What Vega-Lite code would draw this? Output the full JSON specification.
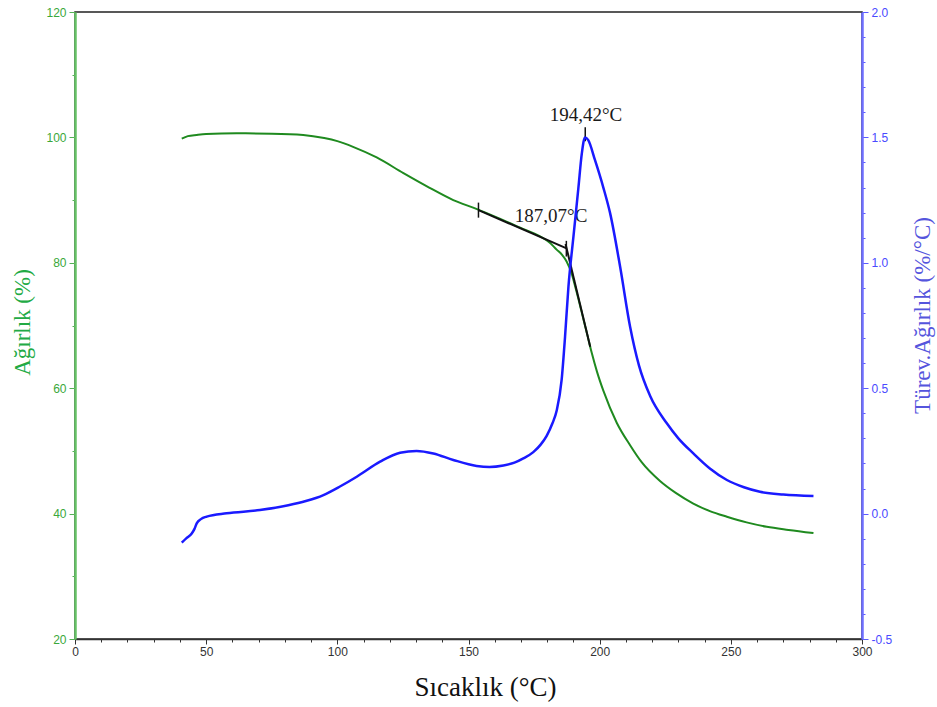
{
  "$schema": "https://vega.github.io/schema/vega-lite/v6.json",
  "width": 787,
  "height": 627,
  "autosize": "none",
  "padding": {"left": 75, "top": 12, "right": 75, "bottom": 68},
  "background": "white",
  "config": {"view": {"stroke": "#222222", "strokeWidth": 1.5}, "axis": {"labelOverlap": false, "labelFlush": false}},
  "datasets": {
    "weight": [
      {"T": 40.7, "W": 99.8}, {"T": 43, "W": 100.2}, {"T": 46.4, "W": 100.4}, {"T": 50, "W": 100.55},
      {"T": 61.6, "W": 100.65}, {"T": 75, "W": 100.6}, {"T": 87, "W": 100.4}, {"T": 95, "W": 99.9},
      {"T": 100, "W": 99.4}, {"T": 106, "W": 98.5}, {"T": 115, "W": 96.8}, {"T": 125.2, "W": 94.3},
      {"T": 135, "W": 92.0}, {"T": 144.2, "W": 90.0}, {"T": 153, "W": 88.6}, {"T": 161, "W": 87.2},
      {"T": 169.7, "W": 85.6}, {"T": 177.3, "W": 84.2}, {"T": 181, "W": 83.2}, {"T": 183.6, "W": 82.1},
      {"T": 185.6, "W": 81.3}, {"T": 187.4, "W": 80.2}, {"T": 189.3, "W": 78.3}, {"T": 191, "W": 75.7},
      {"T": 193, "W": 72.4}, {"T": 195, "W": 69.0}, {"T": 197, "W": 65.6}, {"T": 199, "W": 62.6},
      {"T": 201.4, "W": 59.6}, {"T": 206.5, "W": 54.5}, {"T": 211.6, "W": 50.9}, {"T": 216, "W": 48.2},
      {"T": 223, "W": 45.2}, {"T": 229, "W": 43.3}, {"T": 235.7, "W": 41.6}, {"T": 242, "W": 40.4},
      {"T": 248.5, "W": 39.5}, {"T": 256, "W": 38.6}, {"T": 263.7, "W": 37.9}, {"T": 272, "W": 37.4},
      {"T": 281.5, "W": 36.9}
    ],
    "deriv": [
      {"T": 40.7, "D": -0.116}, {"T": 42.5, "D": -0.098}, {"T": 44.5, "D": -0.079}, {"T": 45.5, "D": -0.062},
      {"T": 46.4, "D": -0.039}, {"T": 48, "D": -0.022}, {"T": 50.2, "D": -0.012}, {"T": 57.8, "D": 0.001},
      {"T": 70.5, "D": 0.014}, {"T": 81.3, "D": 0.033}, {"T": 88, "D": 0.05}, {"T": 94.7, "D": 0.074},
      {"T": 101, "D": 0.108}, {"T": 107.4, "D": 0.147}, {"T": 116.3, "D": 0.207}, {"T": 123.9, "D": 0.243},
      {"T": 130.2, "D": 0.25}, {"T": 136.6, "D": 0.24}, {"T": 144.2, "D": 0.214}, {"T": 153.1, "D": 0.19},
      {"T": 158, "D": 0.186}, {"T": 163.3, "D": 0.192}, {"T": 167.5, "D": 0.203}, {"T": 170.9, "D": 0.22},
      {"T": 174.7, "D": 0.245}, {"T": 177.5, "D": 0.275}, {"T": 179.8, "D": 0.31}, {"T": 182, "D": 0.36},
      {"T": 183.6, "D": 0.41}, {"T": 185.5, "D": 0.533}, {"T": 186.8, "D": 0.705}, {"T": 188.1, "D": 0.905},
      {"T": 190, "D": 1.104}, {"T": 191.9, "D": 1.30}, {"T": 193.2, "D": 1.436}, {"T": 194.4, "D": 1.5},
      {"T": 195.6, "D": 1.49}, {"T": 198.2, "D": 1.41}, {"T": 201.4, "D": 1.30}, {"T": 204, "D": 1.197},
      {"T": 207.8, "D": 0.984}, {"T": 211.6, "D": 0.745}, {"T": 215, "D": 0.59}, {"T": 219.2, "D": 0.47},
      {"T": 225.6, "D": 0.36}, {"T": 230, "D": 0.3}, {"T": 235.7, "D": 0.24}, {"T": 242, "D": 0.18},
      {"T": 248.5, "D": 0.134}, {"T": 255, "D": 0.105}, {"T": 261.1, "D": 0.087}, {"T": 270, "D": 0.076},
      {"T": 281.5, "D": 0.07}
    ],
    "tangents": [
      {"seg": "a", "T": 153.8, "W": 88.4}, {"seg": "a", "T": 187.4, "W": 82.3},
      {"seg": "b", "T": 187.0, "W": 83.0}, {"seg": "b", "T": 196.4, "W": 66.6}
    ],
    "ticks": [
      {"T": 153.8, "W1": 87.2, "W2": 89.6},
      {"T": 187.3, "W1": 81.0, "W2": 83.5},
      {"T": 194.5, "W1": 99.4, "W2": 101.6}
    ],
    "labels": [
      {"T": 194.8, "W": 103.6, "label": "194,42°C"},
      {"T": 181.5, "W": 87.5, "label": "187,07°C"}
    ]
  },
  "encoding": {
    "x": {
      "field": "T", "type": "quantitative",
      "scale": {"domain": [0, 300], "nice": false},
      "axis": {
        "orient": "bottom",
        "values": [0,10,20,30,40,50,60,70,80,90,100,110,120,130,140,150,160,170,180,190,200,210,220,230,240,250,260,270,280,290,300],
        "labelExpr": "(datum.value % 50 === 0) ? ('' + datum.value) : ''",
        "labelOverlap": false,
        "grid": false,
        "domainColor": "#333333", "domainWidth": 1.5,
        "tickColor": "#333333",
        "tickSize": {"condition": {"test": "datum.value % 50 === 0", "value": 5}, "value": 3},
        "labelColor": "#333333", "labelFont": "Liberation Sans", "labelFontSize": 12,
        "labelPadding": 2, "labelFlush": false,
        "title": "Sıcaklık (°C)",
        "titleFont": "Liberation Serif", "titleFontSize": 27, "titleFontWeight": "normal",
        "titleColor": "#111111",
        "titleX": 410, "titleY": 56, "titleAlign": "center", "titleBaseline": "alphabetic"
      }
    }
  },
  "layer": [
    {
      "layer": [
        {
          "data": {"name": "weight"},
          "mark": {"type": "line", "color": "#1f8a1f", "strokeWidth": 2, "interpolate": "monotone"},
          "encoding": {
            "y": {
              "field": "W", "type": "quantitative",
              "scale": {"domain": [20, 120], "nice": false, "zero": false},
              "axis": {
                "orient": "left",
                "values": [20,25,30,35,40,45,50,55,60,65,70,75,80,85,90,95,100,105,110,115,120],
                "labelExpr": "datum.value % 20 === 0 ? datum.value : ''",
                "labelOverlap": false,
                "grid": false,
                "domainColor": "#66c266", "domainWidth": 2.5,
                "tickColor": "#55b055",
                "tickSize": {"condition": {"test": "datum.value % 20 === 0", "value": 6}, "value": 3},
                "labelColor": "#3aa83a", "labelFont": "Liberation Sans", "labelFontSize": 12,
                "labelPadding": 3,
                "title": "Ağırlık (%)",
                "titleFont": "Liberation Serif", "titleFontSize": 23, "titleFontWeight": "normal",
                "titleColor": "#22aa44",
                "titleAngle": -90, "titleX": -53, "titleY": 310, "titleAlign": "center", "titleBaseline": "middle"
              }
            }
          }
        },
        {
          "data": {"name": "tangents"},
          "mark": {"type": "line", "color": "#111111", "strokeWidth": 2},
          "encoding": {
            "y": {"field": "W", "type": "quantitative"},
            "detail": {"field": "seg"}
          }
        },
        {
          "data": {"name": "ticks"},
          "mark": {"type": "rule", "color": "#111111", "strokeWidth": 1.5},
          "encoding": {
            "y": {"field": "W1", "type": "quantitative"},
            "y2": {"field": "W2"}
          }
        },
        {
          "data": {"name": "labels"},
          "mark": {"type": "text", "font": "Liberation Serif", "fontSize": 19, "color": "#1a1a1a", "align": "center", "baseline": "middle"},
          "encoding": {
            "y": {"field": "W", "type": "quantitative"},
            "text": {"field": "label"}
          }
        }
      ]
    },
    {
      "data": {"name": "deriv"},
      "mark": {"type": "line", "color": "#1a1aff", "strokeWidth": 2.5, "interpolate": "monotone"},
      "encoding": {
        "y": {
          "field": "D", "type": "quantitative",
          "scale": {"domain": [-0.5, 2.0], "nice": false, "zero": false},
          "axis": {
            "orient": "right",
            "values": [-0.5,-0.4,-0.3,-0.2,-0.1,0,0.1,0.2,0.3,0.4,0.5,0.6,0.7,0.8,0.9,1.0,1.1,1.2,1.3,1.4,1.5,1.6,1.7,1.8,1.9,2.0],
            "labelExpr": "round(datum.value*10) % 5 === 0 ? (datum.value < 0 ? '-' + format(-datum.value, '.1f') : format(datum.value, '.1f')) : ''",
            "labelOverlap": false,
            "grid": false,
            "domainColor": "#6f6fff", "domainWidth": 2.5,
            "tickColor": "#5a5aff",
            "tickSize": {"condition": {"test": "round(datum.value*10) % 5 === 0", "value": 6}, "value": 3},
            "labelColor": "#4a4aff", "labelFont": "Liberation Sans", "labelFontSize": 12,
            "labelPadding": 3,
            "title": "Türev.Ağırlık (%/°C)",
            "titleFont": "Liberation Serif", "titleFontSize": 23, "titleFontWeight": "normal",
            "titleColor": "#5555dd",
            "titleAngle": -90, "titleX": 60, "titleY": 303, "titleAlign": "center", "titleBaseline": "middle"
          }
        }
      }
    }
  ],
  "resolve": {"scale": {"y": "independent"}}
}
